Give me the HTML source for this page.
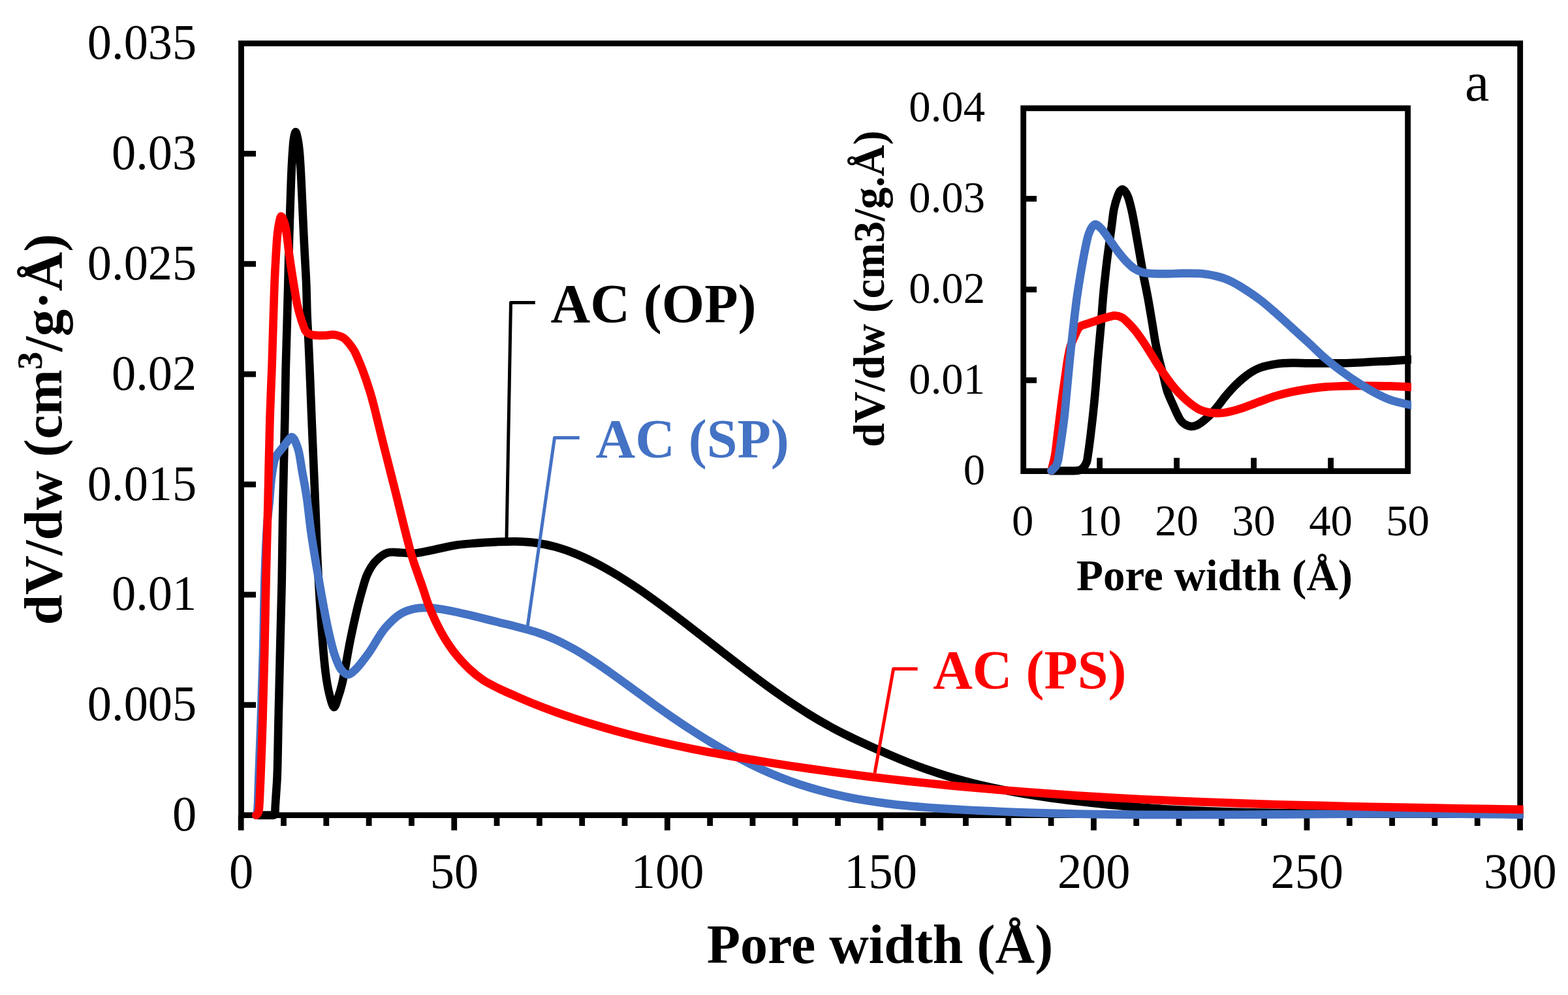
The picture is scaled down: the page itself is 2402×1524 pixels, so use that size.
<!DOCTYPE html>
<html lang="en"><head><meta charset="utf-8"><title>Pore size distribution</title>
<style>html,body{margin:0;padding:0;background:#fff;}body{width:2402px;height:1524px;overflow:hidden;}svg{display:block;}text{font-family:'Liberation Serif', 'Times New Roman', serif;}</style>
</head><body>
<svg xmlns="http://www.w3.org/2000/svg" width="2402" height="1524" viewBox="0 0 2402 1524">
<rect x="0" y="0" width="2402" height="1524" fill="#ffffff"/>
<defs>
<clipPath id="cm"><rect x="365" y="62" width="1968.7" height="1194"/></clipPath>
<clipPath id="ci"><rect x="1563.2" y="161.3" width="598.8" height="567.2"/></clipPath>
</defs>
<g id="main-axes" stroke="#000" stroke-width="8.8" fill="none" stroke-linecap="butt">
<rect x="369.5" y="66.5" width="1959.2" height="1182.1" stroke-linejoin="miter"/>
<line x1="369.2" y1="1248.6" x2="369.2" y2="1271.8"/>
<line x1="434.51" y1="1248.6" x2="434.51" y2="1265"/>
<line x1="499.82" y1="1248.6" x2="499.82" y2="1265"/>
<line x1="565.13" y1="1248.6" x2="565.13" y2="1265"/>
<line x1="630.44" y1="1248.6" x2="630.44" y2="1265"/>
<line x1="695.75" y1="1248.6" x2="695.75" y2="1271.8"/>
<line x1="761.06" y1="1248.6" x2="761.06" y2="1265"/>
<line x1="826.37" y1="1248.6" x2="826.37" y2="1265"/>
<line x1="891.68" y1="1248.6" x2="891.68" y2="1265"/>
<line x1="956.99" y1="1248.6" x2="956.99" y2="1265"/>
<line x1="1022.3" y1="1248.6" x2="1022.3" y2="1271.8"/>
<line x1="1087.61" y1="1248.6" x2="1087.61" y2="1265"/>
<line x1="1152.92" y1="1248.6" x2="1152.92" y2="1265"/>
<line x1="1218.23" y1="1248.6" x2="1218.23" y2="1265"/>
<line x1="1283.54" y1="1248.6" x2="1283.54" y2="1265"/>
<line x1="1348.85" y1="1248.6" x2="1348.85" y2="1271.8"/>
<line x1="1414.16" y1="1248.6" x2="1414.16" y2="1265"/>
<line x1="1479.47" y1="1248.6" x2="1479.47" y2="1265"/>
<line x1="1544.78" y1="1248.6" x2="1544.78" y2="1265"/>
<line x1="1610.09" y1="1248.6" x2="1610.09" y2="1265"/>
<line x1="1675.4" y1="1248.6" x2="1675.4" y2="1271.8"/>
<line x1="1740.71" y1="1248.6" x2="1740.71" y2="1265"/>
<line x1="1806.02" y1="1248.6" x2="1806.02" y2="1265"/>
<line x1="1871.33" y1="1248.6" x2="1871.33" y2="1265"/>
<line x1="1936.64" y1="1248.6" x2="1936.64" y2="1265"/>
<line x1="2001.95" y1="1248.6" x2="2001.95" y2="1271.8"/>
<line x1="2067.26" y1="1248.6" x2="2067.26" y2="1265"/>
<line x1="2132.57" y1="1248.6" x2="2132.57" y2="1265"/>
<line x1="2197.88" y1="1248.6" x2="2197.88" y2="1265"/>
<line x1="2263.19" y1="1248.6" x2="2263.19" y2="1265"/>
<line x1="2328.5" y1="1248.6" x2="2328.5" y2="1271.8"/>
<line x1="369.5" y1="1079.73" x2="392" y2="1079.73"/>
<line x1="369.5" y1="910.86" x2="392" y2="910.86"/>
<line x1="369.5" y1="741.99" x2="392" y2="741.99"/>
<line x1="369.5" y1="573.12" x2="392" y2="573.12"/>
<line x1="369.5" y1="404.25" x2="392" y2="404.25"/>
<line x1="369.5" y1="235.38" x2="392" y2="235.38"/>
</g>
<g id="main-series" fill="none" stroke-linecap="round" stroke-linejoin="round" stroke-width="12.7" clip-path="url(#cm)">
<path id="m-black" stroke="#000000" d="M392.50 1248.60 C396.67 1248.60 400.97 1248.60 405.00 1248.60 C408.78 1248.60 413.43 1248.64 416.00 1248.60 C417.39 1248.58 418.38 1248.76 419.20 1248.50 C419.79 1248.32 420.27 1248.03 420.60 1247.60 C420.95 1247.14 421.07 1246.48 421.20 1245.80 C421.36 1244.98 421.33 1244.20 421.40 1243.00 C421.52 1240.85 421.60 1237.59 421.80 1234.00 C422.09 1228.65 422.66 1220.97 423.10 1214.00 C423.59 1206.36 424.15 1200.56 424.60 1190.00 C425.46 1169.57 425.89 1130.79 426.60 1100.00 C427.35 1067.54 428.17 1034.13 429.00 1000.00 C429.87 964.21 430.95 927.69 431.70 890.00 C432.50 850.15 432.83 808.33 433.60 767.00 C434.39 725.00 435.67 676.51 436.40 640.00 C436.95 612.32 437.22 588.13 437.70 567.00 C438.07 550.78 438.43 540.83 438.90 524.00 C439.56 500.06 440.59 464.63 441.30 437.00 C441.94 411.87 442.37 387.39 443.00 365.00 C443.55 345.43 444.19 327.61 444.80 310.00 C445.36 293.72 445.83 277.28 446.50 263.00 C447.06 251.03 447.65 239.48 448.40 230.00 C448.97 222.79 449.30 216.09 450.30 211.00 C450.99 207.47 452.00 202.21 452.90 202.20 C453.80 202.19 454.88 207.47 455.70 211.00 C456.88 216.09 457.72 222.78 458.50 230.00 C459.53 239.47 460.11 251.21 460.80 263.00 C461.60 276.61 462.19 291.65 462.90 307.00 C463.68 323.84 464.55 344.42 465.30 360.00 C465.90 372.30 466.39 381.21 467.00 393.00 C467.71 406.61 468.72 422.27 469.30 437.00 C469.89 451.84 469.93 467.07 470.50 481.70 C471.05 495.82 471.94 509.26 472.60 523.30 C473.28 537.69 473.82 550.57 474.50 567.00 C475.38 588.23 476.26 612.32 477.40 640.00 C478.90 676.51 481.07 725.90 482.80 767.00 C484.43 805.77 485.16 839.69 487.50 880.00 C490.20 926.49 494.57 997.50 498.70 1030.00 C500.71 1045.80 502.37 1055.32 505.00 1065.00 C506.94 1072.15 509.44 1083.15 511.70 1083.20 C513.78 1083.24 516.05 1073.55 518.00 1068.00 C520.27 1061.55 522.02 1055.84 524.20 1046.70 C528.02 1030.71 532.48 1000.60 536.70 980.00 C540.36 962.10 544.23 944.51 547.80 930.00 C550.58 918.69 553.22 908.96 555.90 900.00 C558.11 892.63 559.46 886.49 562.50 880.00 C565.72 873.13 569.79 865.59 575.00 860.00 C580.10 854.53 586.55 848.93 593.30 846.70 C599.91 844.52 607.92 846.36 615.00 846.50 C621.80 846.64 627.99 847.95 635.00 847.50 C642.90 846.99 650.70 844.79 660.00 843.00 C671.79 840.73 687.58 836.65 700.00 834.77 C710.67 833.16 719.99 832.62 730.00 831.83 C739.99 831.05 750.00 830.47 760.00 830.06 C770.00 829.65 780.00 829.17 790.00 829.38 C800.00 829.60 810.04 830.03 820.00 831.35 C830.04 832.69 840.08 834.74 850.00 837.40 C860.09 840.10 870.10 843.59 880.00 847.49 C890.10 851.46 900.10 856.11 910.00 861.08 C920.10 866.14 930.09 871.76 940.00 877.62 C950.09 883.58 960.07 889.99 970.00 896.56 C980.07 903.23 990.05 910.26 1000.00 917.38 C1010.05 924.57 1020.03 932.02 1030.00 939.50 C1040.03 947.04 1050.02 954.74 1060.00 962.43 C1070.02 970.15 1080.00 977.97 1090.00 985.74 C1100.00 993.51 1109.98 1001.33 1120.00 1009.05 C1129.98 1016.74 1139.97 1024.43 1150.00 1031.97 C1159.97 1039.45 1169.95 1046.89 1180.00 1054.11 C1189.95 1061.26 1199.94 1068.31 1210.00 1075.08 C1219.94 1081.77 1229.93 1088.31 1240.00 1094.50 C1249.93 1100.60 1259.93 1106.45 1270.00 1111.99 C1279.93 1117.45 1289.95 1122.56 1300.00 1127.52 C1309.95 1132.43 1319.97 1137.05 1330.00 1141.62 C1339.97 1146.16 1349.98 1150.56 1360.00 1154.87 C1369.98 1159.15 1379.96 1163.41 1390.00 1167.38 C1399.96 1171.32 1409.96 1175.09 1420.00 1178.61 C1429.96 1182.09 1439.97 1185.34 1450.00 1188.40 C1459.97 1191.43 1470.99 1194.48 1480.00 1196.88 C1487.32 1198.84 1491.81 1200.00 1500.00 1201.89 C1512.89 1204.86 1533.30 1209.30 1550.00 1212.44 C1566.63 1215.56 1583.31 1218.22 1600.00 1220.70 C1616.65 1223.17 1633.32 1225.32 1650.00 1227.32 C1666.65 1229.31 1683.32 1231.06 1700.00 1232.65 C1716.66 1234.24 1733.33 1235.62 1750.00 1236.85 C1766.66 1238.08 1783.33 1239.12 1800.00 1240.04 C1816.66 1240.96 1833.33 1241.71 1850.00 1242.37 C1866.66 1243.02 1883.33 1243.53 1900.00 1243.96 C1916.67 1244.39 1933.33 1244.70 1950.00 1244.95 C1966.67 1245.20 1980.47 1245.36 2000.00 1245.48 C2027.61 1245.66 2066.67 1245.67 2100.00 1245.71 C2133.33 1245.75 2166.67 1245.57 2200.00 1245.72 C2233.33 1245.87 2273.23 1246.19 2300.00 1246.60 C2317.96 1246.87 2330.00 1247.25 2345.00 1247.57"/>
<path id="m-blue" stroke="#4472C4" d="M392.50 1248.60 C392.90 1247.40 393.38 1246.31 393.70 1245.00 C394.07 1243.48 394.27 1242.12 394.50 1240.00 C394.89 1236.35 395.04 1231.05 395.30 1225.00 C395.69 1215.77 395.90 1204.37 396.40 1190.00 C397.20 1166.95 398.73 1130.79 399.80 1100.00 C400.93 1067.55 402.05 1034.85 403.00 1000.00 C404.04 961.82 404.44 915.95 405.70 880.00 C406.73 850.63 407.93 820.84 409.50 800.00 C410.51 786.59 411.96 777.45 412.90 767.00 C413.75 757.55 414.19 747.92 415.00 740.00 C415.63 733.76 416.36 728.32 417.10 723.30 C417.71 719.16 418.24 715.64 419.00 712.00 C419.72 708.55 420.37 704.90 421.50 702.00 C422.45 699.56 423.40 698.01 425.00 695.60 C427.38 692.03 431.84 687.13 435.00 683.10 C437.91 679.38 440.96 674.70 443.30 672.30 C444.68 670.88 445.80 669.26 447.00 669.30 C448.20 669.34 449.54 671.21 450.50 672.50 C451.54 673.90 452.04 675.43 452.90 677.50 C454.23 680.70 455.93 684.76 457.30 690.00 C459.48 698.37 461.26 713.00 463.10 723.30 C464.70 732.23 466.39 740.56 467.70 748.30 C468.83 754.98 469.53 759.26 470.60 767.00 C472.35 779.59 474.20 799.16 476.70 816.70 C479.53 836.55 483.07 857.48 487.00 880.00 C491.51 905.89 497.40 940.36 502.50 963.30 C506.13 979.65 509.23 993.61 513.30 1005.00 C516.28 1013.35 518.95 1021.16 523.00 1026.00 C525.99 1029.57 529.76 1033.20 533.30 1033.20 C537.08 1033.20 540.88 1028.87 545.00 1025.00 C551.17 1019.21 558.19 1009.39 565.00 1000.00 C573.13 988.80 580.93 972.46 590.00 961.90 C597.79 952.82 606.08 944.50 615.00 939.40 C622.88 934.90 632.04 932.80 640.00 931.50 C646.95 930.36 653.35 930.74 660.00 931.12 C666.68 931.50 673.35 932.72 680.00 933.80 C686.68 934.88 692.68 936.04 700.00 937.59 C709.01 939.50 720.01 942.18 730.00 944.61 C740.01 947.05 749.99 949.72 760.00 952.21 C769.99 954.69 780.02 956.93 790.00 959.53 C800.02 962.13 810.07 964.58 820.00 967.82 C830.08 971.12 840.12 974.80 850.00 979.19 C860.13 983.69 870.11 989.00 880.00 994.58 C890.12 1000.29 900.08 1006.65 910.00 1013.13 C920.08 1019.72 930.04 1026.77 940.00 1033.82 C950.04 1040.94 960.00 1048.36 970.00 1055.64 C980.00 1062.94 989.97 1070.37 1000.00 1077.57 C1009.97 1084.72 1019.96 1091.82 1030.00 1098.71 C1039.96 1105.54 1049.95 1112.25 1060.00 1118.74 C1069.95 1125.18 1079.95 1131.46 1090.00 1137.50 C1099.95 1143.48 1109.94 1149.28 1120.00 1154.80 C1129.94 1160.26 1139.94 1165.52 1150.00 1170.47 C1159.94 1175.35 1169.94 1180.01 1180.00 1184.32 C1189.94 1188.58 1199.95 1192.55 1210.00 1196.21 C1219.95 1199.83 1229.96 1203.13 1240.00 1206.18 C1249.96 1209.21 1259.97 1211.93 1270.00 1214.44 C1279.97 1216.93 1289.98 1219.14 1300.00 1221.17 C1309.98 1223.19 1319.99 1224.96 1330.00 1226.57 C1339.99 1228.18 1349.99 1229.58 1360.00 1230.85 C1369.99 1232.11 1379.99 1233.19 1390.00 1234.18 C1399.99 1235.17 1410.00 1236.01 1420.00 1236.78 C1430.00 1237.56 1440.00 1238.21 1450.00 1238.84 C1460.00 1239.47 1471.01 1240.07 1480.00 1240.55 C1487.34 1240.95 1491.83 1241.18 1500.00 1241.56 C1512.91 1242.17 1533.33 1243.08 1550.00 1243.72 C1566.67 1244.35 1583.33 1244.89 1600.00 1245.36 C1616.67 1245.83 1633.33 1246.22 1650.00 1246.55 C1666.67 1246.88 1683.33 1247.14 1700.00 1247.35 C1716.67 1247.56 1733.33 1247.71 1750.00 1247.81 C1766.67 1247.92 1783.33 1247.97 1800.00 1248.00 C1816.67 1248.03 1833.33 1248.00 1850.00 1247.96 C1866.67 1247.93 1883.33 1247.85 1900.00 1247.77 C1916.67 1247.68 1933.33 1247.57 1950.00 1247.46 C1966.67 1247.35 1980.47 1247.24 2000.00 1247.11 C2027.61 1246.92 2066.67 1246.61 2100.00 1246.48 C2133.33 1246.36 2166.67 1246.24 2200.00 1246.35 C2233.33 1246.47 2273.23 1246.82 2300.00 1247.17 C2317.96 1247.41 2330.00 1247.71 2345.00 1247.97"/>
<path id="m-red" stroke="#FF0000" d="M392.50 1248.60 C393.47 1247.47 394.70 1246.61 395.40 1245.20 C396.24 1243.52 396.44 1241.50 396.80 1239.00 C397.34 1235.29 397.42 1230.08 397.70 1225.00 C398.03 1218.93 398.32 1211.19 398.60 1205.00 C398.85 1199.64 399.01 1197.10 399.30 1190.00 C400.02 1172.61 401.54 1130.79 402.50 1100.00 C403.52 1067.55 404.37 1034.85 405.20 1000.00 C406.11 961.82 406.80 918.66 407.70 880.00 C408.54 843.83 409.49 812.20 410.40 775.00 C411.43 732.82 412.29 679.14 413.50 640.00 C414.43 609.86 415.57 589.53 416.60 560.00 C417.87 523.39 419.16 467.68 420.40 437.00 C421.14 418.64 421.79 406.61 422.60 393.00 C423.31 381.21 423.93 369.18 424.90 360.00 C425.60 353.39 426.18 348.09 427.30 343.00 C428.24 338.73 429.34 331.50 430.80 331.40 C432.30 331.29 434.82 338.67 436.20 343.00 C437.80 348.04 438.28 353.39 439.30 360.00 C440.72 369.18 441.85 381.22 443.50 393.00 C445.40 406.62 448.09 423.99 450.20 437.00 C451.88 447.39 453.29 456.89 455.00 465.00 C456.33 471.31 457.61 476.17 459.20 481.70 C460.80 487.27 462.78 493.53 464.60 498.30 C466.02 502.03 466.73 505.70 468.90 508.10 C470.88 510.29 473.89 511.56 476.70 512.50 C479.58 513.47 482.69 513.53 486.00 513.75 C489.74 514.00 494.00 513.92 498.00 513.75 C502.00 513.58 506.41 512.57 510.00 512.70 C512.94 512.81 515.39 513.25 518.00 514.00 C520.66 514.77 523.30 515.65 525.80 517.30 C528.74 519.24 531.54 522.31 534.20 525.40 C537.14 528.82 540.16 533.14 542.50 537.10 C544.67 540.78 546.05 544.17 547.90 548.30 C550.13 553.28 552.31 558.41 554.80 565.00 C558.32 574.30 563.24 588.49 566.50 599.00 C569.26 607.93 571.20 615.57 573.40 624.00 C575.64 632.57 577.63 641.17 579.80 650.00 C582.06 659.16 583.82 666.51 586.70 678.00 C591.32 696.44 598.40 724.03 605.00 750.00 C612.78 780.60 623.51 826.50 630.40 850.00 C634.22 863.01 637.31 871.02 640.40 880.00 C642.93 887.35 645.06 892.95 647.50 900.00 C650.21 907.86 652.76 916.73 655.90 925.00 C659.08 933.40 662.60 941.75 666.50 950.00 C670.48 958.42 674.70 966.80 679.60 975.00 C684.66 983.48 690.11 991.90 696.50 1000.00 C703.28 1008.59 711.69 1017.78 719.40 1025.00 C726.20 1031.37 732.56 1036.57 740.00 1041.50 C747.72 1046.61 756.59 1050.85 765.00 1055.00 C773.26 1059.07 781.27 1062.40 790.00 1066.20 C799.52 1070.34 809.96 1074.85 820.00 1078.87 C829.96 1082.85 839.97 1086.58 850.00 1090.19 C859.97 1093.78 869.98 1097.18 880.00 1100.47 C889.98 1103.75 899.98 1106.89 910.00 1109.91 C919.98 1112.92 929.98 1115.80 940.00 1118.58 C949.99 1121.35 959.99 1124.00 970.00 1126.55 C979.99 1129.10 989.99 1131.53 1000.00 1133.89 C1009.99 1136.24 1019.99 1138.48 1030.00 1140.65 C1039.99 1142.82 1049.99 1144.90 1060.00 1146.92 C1069.99 1148.93 1079.99 1150.86 1090.00 1152.74 C1099.99 1154.62 1110.00 1156.43 1120.00 1158.20 C1130.00 1159.96 1140.00 1161.67 1150.00 1163.35 C1160.00 1165.02 1170.00 1166.65 1180.00 1168.24 C1190.00 1169.84 1200.00 1171.39 1210.00 1172.91 C1220.00 1174.43 1230.00 1175.90 1240.00 1177.35 C1250.00 1178.79 1260.00 1180.19 1270.00 1181.56 C1280.00 1182.93 1290.00 1184.27 1300.00 1185.57 C1310.00 1186.87 1320.00 1188.13 1330.00 1189.36 C1340.00 1190.59 1350.00 1191.79 1360.00 1192.95 C1370.00 1194.12 1380.00 1195.25 1390.00 1196.35 C1400.00 1197.45 1410.00 1198.52 1420.00 1199.56 C1430.00 1200.60 1440.00 1201.61 1450.00 1202.58 C1460.00 1203.56 1471.01 1204.60 1480.00 1205.43 C1487.34 1206.11 1491.83 1206.53 1500.00 1207.24 C1512.91 1208.36 1533.33 1210.11 1550.00 1211.44 C1566.66 1212.76 1583.33 1214.01 1600.00 1215.20 C1616.66 1216.39 1633.33 1217.51 1650.00 1218.57 C1666.66 1219.63 1683.33 1220.62 1700.00 1221.56 C1716.67 1222.50 1733.33 1223.38 1750.00 1224.22 C1766.67 1225.05 1783.33 1225.83 1800.00 1226.56 C1816.67 1227.29 1833.33 1227.98 1850.00 1228.62 C1866.67 1229.27 1883.33 1229.86 1900.00 1230.43 C1916.67 1231.00 1933.33 1231.52 1950.00 1232.02 C1966.67 1232.51 1980.47 1232.91 2000.00 1233.41 C2027.61 1234.12 2066.67 1235.03 2100.00 1235.74 C2133.33 1236.45 2166.67 1237.05 2200.00 1237.66 C2233.33 1238.27 2273.23 1238.93 2300.00 1239.39 C2317.96 1239.71 2330.00 1239.92 2345.00 1240.18"/>
</g>
<g id="inset-axes" stroke="#000" stroke-width="8.8" fill="none" stroke-linecap="butt">
<rect x="1567.7" y="165.8" width="588.9" height="555.8" stroke-linejoin="miter"/>
<line x1="1684.6" y1="721.4" x2="1684.6" y2="701.3"/>
<line x1="1802.6" y1="721.4" x2="1802.6" y2="701.3"/>
<line x1="1920.6" y1="721.4" x2="1920.6" y2="701.3"/>
<line x1="2038.6" y1="721.4" x2="2038.6" y2="701.3"/>
<line x1="1567.7" y1="582.4" x2="1588" y2="582.4"/>
<line x1="1567.7" y1="443.4" x2="1588" y2="443.4"/>
<line x1="1567.7" y1="304.4" x2="1588" y2="304.4"/>
</g>
<g id="inset-series" fill="none" stroke-linecap="round" stroke-linejoin="round" stroke-width="12.7" clip-path="url(#ci)">
<path id="i-black" stroke="#000000" d="M1610.50 721.20 C1618.67 721.20 1628.12 721.25 1635.00 721.20 C1640.01 721.16 1644.34 721.34 1648.00 721.00 C1650.70 720.75 1652.93 720.79 1655.00 719.80 C1657.10 718.80 1658.93 716.94 1660.50 715.00 C1662.21 712.90 1663.66 710.42 1664.70 707.50 C1665.96 703.95 1666.14 699.89 1666.90 695.00 C1667.98 688.11 1669.20 678.72 1670.30 670.00 C1671.50 660.46 1672.64 650.72 1673.80 640.00 C1675.14 627.63 1676.53 614.08 1677.80 600.00 C1679.22 584.27 1680.38 566.66 1681.80 550.00 C1683.22 533.33 1684.88 516.67 1686.30 500.00 C1687.72 483.34 1688.97 464.54 1690.30 450.00 C1691.33 438.72 1692.35 429.54 1693.40 420.00 C1694.36 411.28 1695.25 403.33 1696.30 395.00 C1697.35 386.66 1698.57 378.33 1699.70 370.00 C1700.83 361.67 1701.97 353.33 1703.10 345.00 C1704.23 336.67 1704.89 327.71 1706.50 320.00 C1707.93 313.18 1710.10 305.93 1711.90 301.00 C1713.10 297.71 1713.98 294.86 1715.50 293.00 C1716.62 291.62 1718.10 290.20 1719.40 290.20 C1720.70 290.20 1722.09 291.65 1723.30 293.00 C1724.97 294.87 1726.42 297.66 1727.80 301.00 C1729.82 305.89 1731.47 313.20 1733.10 320.00 C1734.95 327.73 1736.53 336.66 1738.10 345.00 C1739.66 353.32 1741.03 361.67 1742.50 370.00 C1743.97 378.33 1745.44 386.67 1746.90 395.00 C1748.36 403.33 1749.55 410.86 1751.25 420.00 C1753.33 431.14 1756.24 444.19 1758.60 457.00 C1761.14 470.78 1763.83 487.60 1765.90 500.00 C1767.48 509.45 1768.41 516.69 1770.00 525.00 C1771.60 533.36 1773.49 541.69 1775.50 550.00 C1777.52 558.35 1779.95 566.66 1782.10 575.00 C1784.25 583.33 1785.79 592.23 1788.40 600.00 C1790.80 607.14 1794.34 614.12 1796.90 620.00 C1798.94 624.67 1800.51 628.48 1802.50 632.50 C1804.42 636.39 1806.30 640.73 1808.60 643.75 C1810.49 646.22 1812.29 648.16 1814.80 649.70 C1817.59 651.41 1821.56 653.01 1824.80 653.20 C1827.78 653.37 1830.91 652.28 1833.50 651.25 C1835.85 650.31 1837.42 649.20 1839.80 647.50 C1843.35 644.96 1848.26 640.81 1852.30 636.90 C1856.61 632.73 1860.73 627.97 1864.80 623.10 C1869.07 618.00 1872.82 612.27 1877.30 606.90 C1882.02 601.24 1887.55 594.95 1892.50 590.00 C1896.76 585.74 1900.74 582.19 1905.00 578.75 C1909.08 575.45 1913.23 572.30 1917.50 569.70 C1921.57 567.22 1924.99 565.22 1930.00 563.40 C1936.79 560.93 1946.61 558.75 1955.00 557.50 C1963.28 556.27 1971.66 556.10 1980.00 555.90 C1988.33 555.70 1994.79 556.24 2005.00 556.30 C2021.12 556.39 2049.23 556.53 2067.40 556.00 C2081.52 555.59 2093.74 554.57 2105.00 554.00 C2114.18 553.54 2120.69 553.33 2130.00 552.80 C2141.78 552.13 2156.67 551.07 2170.00 550.20"/>
<path id="i-red" stroke="#FF0000" d="M1610.50 721.00 C1611.67 716.50 1612.98 711.93 1614.00 707.50 C1614.97 703.27 1615.71 699.90 1616.50 695.00 C1617.61 688.11 1618.52 678.71 1619.60 670.00 C1620.78 660.46 1621.96 650.72 1623.30 640.00 C1624.85 627.62 1626.71 612.37 1628.40 600.00 C1629.86 589.28 1631.44 578.99 1632.75 570.00 C1633.82 562.66 1634.50 556.65 1635.70 550.00 C1636.91 543.31 1638.02 536.36 1640.00 530.00 C1641.91 523.88 1645.01 517.42 1647.25 512.50 C1648.93 508.82 1650.20 505.41 1652.00 503.00 C1653.37 501.16 1654.77 499.82 1656.50 498.80 C1658.24 497.78 1660.07 497.66 1662.40 496.90 C1665.81 495.80 1670.83 494.22 1675.00 492.80 C1679.16 491.39 1683.23 489.70 1687.40 488.40 C1691.53 487.11 1696.25 485.88 1699.90 485.00 C1702.71 484.32 1704.65 483.35 1707.40 483.40 C1710.79 483.46 1715.63 484.72 1718.70 486.25 C1721.24 487.52 1722.56 489.09 1724.90 491.25 C1728.44 494.51 1733.37 499.61 1737.40 504.40 C1741.73 509.55 1745.83 515.37 1749.90 521.25 C1754.17 527.41 1758.26 534.08 1762.40 540.60 C1766.59 547.20 1770.67 554.14 1774.90 560.60 C1778.98 566.84 1783.07 572.92 1787.30 578.75 C1791.38 584.38 1795.50 589.98 1799.80 595.00 C1803.85 599.72 1808.04 604.02 1812.30 608.10 C1816.38 612.00 1820.52 615.75 1824.80 619.00 C1828.86 622.08 1832.99 625.13 1837.30 627.20 C1841.34 629.14 1845.59 630.32 1849.80 631.25 C1853.92 632.16 1858.13 632.64 1862.30 632.80 C1866.46 632.96 1870.65 632.71 1874.80 632.20 C1878.99 631.68 1883.14 630.72 1887.30 629.70 C1891.54 628.66 1894.91 627.67 1900.00 626.00 C1907.92 623.40 1920.44 618.42 1930.00 615.00 C1938.70 611.88 1946.61 608.76 1955.00 606.25 C1963.28 603.77 1971.64 601.78 1980.00 600.00 C1988.30 598.23 1996.65 596.83 2005.00 595.60 C2013.32 594.37 2021.65 593.30 2030.00 592.60 C2038.32 591.90 2046.66 591.68 2055.00 591.40 C2063.33 591.12 2071.67 590.97 2080.00 590.90 C2088.33 590.83 2096.67 590.92 2105.00 591.00 C2113.33 591.08 2120.69 591.12 2130.00 591.40 C2141.78 591.76 2156.67 592.60 2170.00 593.20"/>
<path id="i-blue" stroke="#4472C4" d="M1610.50 721.00 C1612.83 718.58 1615.83 716.23 1617.50 713.75 C1618.88 711.71 1619.53 710.00 1620.30 707.50 C1621.34 704.10 1621.70 699.89 1622.50 695.00 C1623.62 688.10 1625.01 678.72 1626.25 670.00 C1627.61 660.46 1629.05 650.73 1630.30 640.00 C1631.74 627.64 1632.85 614.08 1634.20 600.00 C1635.71 584.26 1637.22 566.66 1638.90 550.00 C1640.58 533.33 1642.43 516.22 1644.30 500.00 C1646.07 484.60 1647.84 469.04 1649.80 455.00 C1651.53 442.59 1653.52 430.68 1655.30 420.00 C1656.81 410.96 1658.14 403.32 1659.70 395.00 C1661.27 386.66 1663.08 376.88 1664.70 370.00 C1665.86 365.10 1666.58 361.41 1668.10 357.50 C1669.55 353.77 1671.42 349.36 1673.50 347.00 C1674.96 345.34 1676.46 343.66 1678.30 343.70 C1680.87 343.76 1684.35 347.51 1687.40 350.60 C1691.54 354.79 1695.76 361.80 1699.90 367.50 C1704.09 373.27 1708.13 379.47 1712.40 385.00 C1716.47 390.27 1720.57 395.50 1724.90 400.00 C1728.92 404.18 1733.01 408.32 1737.40 411.25 C1741.38 413.91 1745.63 415.93 1749.90 417.20 C1753.97 418.41 1757.51 418.52 1762.40 418.90 C1769.27 419.43 1778.99 419.45 1787.30 419.40 C1795.63 419.35 1803.97 418.68 1812.30 418.60 C1820.63 418.52 1830.41 418.47 1837.30 418.90 C1842.19 419.20 1845.65 419.67 1849.80 420.30 C1853.98 420.93 1858.15 421.72 1862.30 422.70 C1866.49 423.69 1870.68 424.79 1874.80 426.25 C1879.01 427.74 1883.17 429.56 1887.30 431.60 C1891.57 433.71 1894.95 435.63 1900.00 438.75 C1907.96 443.67 1920.63 451.93 1930.00 459.00 C1938.90 465.71 1946.74 472.78 1955.00 480.00 C1963.41 487.35 1971.66 495.18 1980.00 502.75 C1988.33 510.31 1996.70 517.75 2005.00 525.40 C2013.36 533.10 2021.51 541.50 2030.00 548.80 C2038.19 555.83 2046.57 562.26 2055.00 568.50 C2063.24 574.61 2071.57 580.45 2080.00 585.90 C2088.24 591.23 2096.55 596.42 2105.00 600.90 C2113.22 605.26 2120.51 609.15 2130.00 612.50 C2141.61 616.60 2156.67 619.17 2170.00 622.50"/>
</g>
<g id="leaders" fill="none" stroke-width="5" stroke-linejoin="round" stroke-linecap="butt">
<polyline stroke="#000000" points="776,825 782.5,463.5 819.8,463.5"/>
<polyline stroke="#4472C4" points="808.3,958.3 849.5,670.6 887.7,670.6"/>
<polyline stroke="#FF0000" points="1340,1184 1368.6,1024.6 1405.6,1024.6"/>
</g>
<g id="labels">
<text x="301.2" y="1272.2" font-size="75" text-anchor="end" transform="translate(301.2 1272.2) scale(0.992 1.025) translate(-301.2 -1272.2)">0</text>
<text x="301.2" y="1103.33" font-size="75" text-anchor="end" transform="translate(301.2 1103.33) scale(0.992 1.025) translate(-301.2 -1103.33)">0.005</text>
<text x="301.2" y="934.46" font-size="75" text-anchor="end" transform="translate(301.2 934.46) scale(0.992 1.025) translate(-301.2 -934.46)">0.01</text>
<text x="301.2" y="765.59" font-size="75" text-anchor="end" transform="translate(301.2 765.59) scale(0.992 1.025) translate(-301.2 -765.59)">0.015</text>
<text x="301.2" y="596.72" font-size="75" text-anchor="end" transform="translate(301.2 596.72) scale(0.992 1.025) translate(-301.2 -596.72)">0.02</text>
<text x="301.2" y="427.85" font-size="75" text-anchor="end" transform="translate(301.2 427.85) scale(0.992 1.025) translate(-301.2 -427.85)">0.025</text>
<text x="301.2" y="258.98" font-size="75" text-anchor="end" transform="translate(301.2 258.98) scale(0.992 1.025) translate(-301.2 -258.98)">0.03</text>
<text x="301.2" y="90.11" font-size="75" text-anchor="end" transform="translate(301.2 90.11) scale(0.992 1.025) translate(-301.2 -90.11)">0.035</text>
<text x="369.5" y="1360" font-size="75" text-anchor="middle" transform="translate(369.5 1360) scale(0.992 1.025) translate(-369.5 -1360)">0</text>
<text x="696.05" y="1360" font-size="75" text-anchor="middle" transform="translate(696.05 1360) scale(0.992 1.025) translate(-696.05 -1360)">50</text>
<text x="1022.6" y="1360" font-size="75" text-anchor="middle" transform="translate(1022.6 1360) scale(0.992 1.025) translate(-1022.6 -1360)">100</text>
<text x="1349.15" y="1360" font-size="75" text-anchor="middle" transform="translate(1349.15 1360) scale(0.992 1.025) translate(-1349.15 -1360)">150</text>
<text x="1675.7" y="1360" font-size="75" text-anchor="middle" transform="translate(1675.7 1360) scale(0.992 1.025) translate(-1675.7 -1360)">200</text>
<text x="2002.25" y="1360" font-size="75" text-anchor="middle" transform="translate(2002.25 1360) scale(0.992 1.025) translate(-2002.25 -1360)">250</text>
<text x="2328.8" y="1360" font-size="75" text-anchor="middle" transform="translate(2328.8 1360) scale(0.992 1.025) translate(-2328.8 -1360)">300</text>
<text x="1348" y="1475" font-size="84" font-weight="bold" text-anchor="middle">Pore width (Å)</text>
<text x="93.6" y="657.6" font-size="83.3" font-weight="bold" text-anchor="middle" transform="rotate(-90 93.6 657.6)">dV/dw (cm<tspan baseline-shift="super" font-size="55.5">3</tspan>/g·Å)</text>
<text x="843.5" y="494.2" font-size="84" font-weight="bold">AC (OP)</text>
<text x="912.5" y="700.6" font-size="84" font-weight="bold" fill="#4472C4">AC (SP)</text>
<text x="1429.2" y="1055.3" font-size="84" font-weight="bold" fill="#FF0000">AC (PS)</text>
<text x="2244" y="154.4" font-size="84">a</text>
<text x="1509" y="742.1" font-size="66.7" text-anchor="end" transform="translate(1509 742.1) scale(1 1.025) translate(-1509 -742.1)">0</text>
<text x="1509" y="603.1" font-size="66.7" text-anchor="end" transform="translate(1509 603.1) scale(1 1.025) translate(-1509 -603.1)">0.01</text>
<text x="1509" y="464.1" font-size="66.7" text-anchor="end" transform="translate(1509 464.1) scale(1 1.025) translate(-1509 -464.1)">0.02</text>
<text x="1509" y="325.1" font-size="66.7" text-anchor="end" transform="translate(1509 325.1) scale(1 1.025) translate(-1509 -325.1)">0.03</text>
<text x="1509" y="186.1" font-size="66.7" text-anchor="end" transform="translate(1509 186.1) scale(1 1.025) translate(-1509 -186.1)">0.04</text>
<text x="1566.6" y="820" font-size="66.7" text-anchor="middle" transform="translate(1566.6 820) scale(1 1.025) translate(-1566.6 -820)">0</text>
<text x="1684.6" y="820" font-size="66.7" text-anchor="middle" transform="translate(1684.6 820) scale(1 1.025) translate(-1684.6 -820)">10</text>
<text x="1802.6" y="820" font-size="66.7" text-anchor="middle" transform="translate(1802.6 820) scale(1 1.025) translate(-1802.6 -820)">20</text>
<text x="1920.6" y="820" font-size="66.7" text-anchor="middle" transform="translate(1920.6 820) scale(1 1.025) translate(-1920.6 -820)">30</text>
<text x="2038.6" y="820" font-size="66.7" text-anchor="middle" transform="translate(2038.6 820) scale(1 1.025) translate(-2038.6 -820)">40</text>
<text x="2156.6" y="820" font-size="66.7" text-anchor="middle" transform="translate(2156.6 820) scale(1 1.025) translate(-2156.6 -820)">50</text>
<text x="1860.6" y="903.6" font-size="68" font-weight="bold" text-anchor="middle" transform="translate(1860.6 903.6) scale(0.9856 1) translate(-1860.6 -903.6)">Pore width (Å)</text>
<text x="1354.5" y="442.4" font-size="68.5" font-weight="bold" text-anchor="middle" transform="rotate(-90 1354.5 442.4) translate(1354.5 442.4) scale(0.9735 1) translate(-1354.5 -442.4)">dV/dw (cm3/g.Å)</text>
</g>
</svg>
</body></html>
